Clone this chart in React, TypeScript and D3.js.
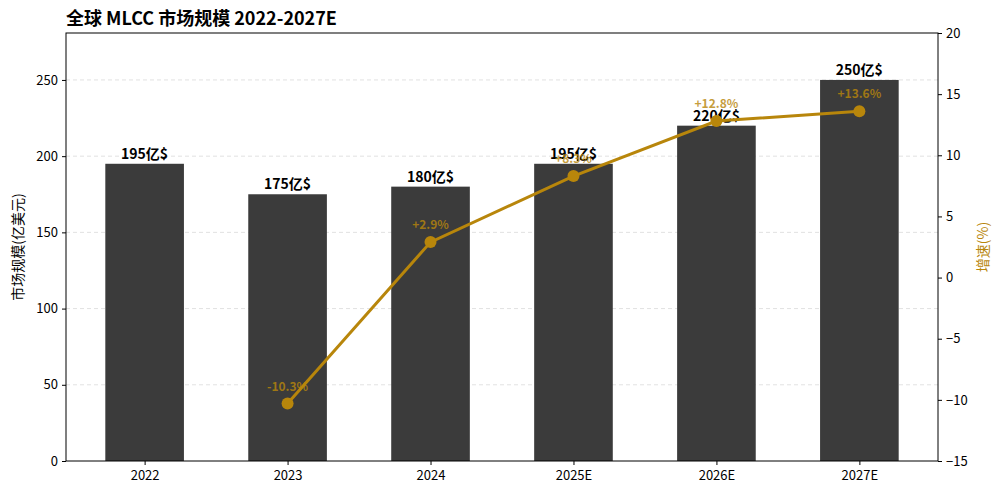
import * as d3 from "d3";
import React, { useEffect, useRef } from "react";

const years = ["2022", "2023", "2024", "2025E", "2026E", "2027E"];
const marketSize = [195, 175, 180, 195, 220, 250];
const growth: (number | null)[] = [null, -10.3, 2.9, 8.3, 12.8, 13.6];
const leftTicks = [0, 50, 100, 150, 200, 250];
const rightTicks = [-15, -10, -5, 0, 5, 10, 15, 20];

const FONT = "'Noto Sans CJK SC', 'Noto Sans', sans-serif";
const GOLD = "#b8860b";
const BAR = "#3b3b3b";

const App = () => {
  const ref = useRef<SVGSVGElement | null>(null);

  useEffect(() => {
    const svg = d3.select(ref.current);
    svg.selectAll("*").remove();

    const width = 1000;
    const height = 497;
    const margin = { top: 33, right: 62, bottom: 36, left: 66 };
    const x0 = margin.left;
    const x1 = width - margin.right;
    const yTop = margin.top;
    const yBot = height - margin.bottom;

    svg.attr("width", width).attr("height", height).style("font-family", FONT);

    const x = d3.scaleLinear().domain([-0.55, 5.55]).range([x0, x1]);
    const bw = x(0.55) - x(0);
    const y = d3.scaleLinear().domain([0, 280.8]).range([yBot, yTop]);
    const y2 = d3.scaleLinear().domain([-15, 20]).range([yBot, yTop]);

    // grid
    svg
      .append("g")
      .selectAll("line")
      .data(leftTicks.filter((t) => t > 0))
      .enter()
      .append("line")
      .attr("x1", x0)
      .attr("x2", x1)
      .attr("y1", (d) => y(d))
      .attr("y2", (d) => y(d))
      .attr("stroke", "#d9d9d9")
      .attr("stroke-width", 0.8)
      .attr("stroke-dasharray", "4,3");

    // bars
    svg
      .append("g")
      .selectAll("rect")
      .data(marketSize)
      .enter()
      .append("rect")
      .attr("x", (_, i) => x(i) - bw / 2)
      .attr("y", (d) => y(d))
      .attr("width", bw)
      .attr("height", (d) => y(0) - y(d))
      .attr("fill", BAR);

    // bar labels
    svg
      .append("g")
      .selectAll("text")
      .data(marketSize)
      .enter()
      .append("text")
      .attr("x", (_, i) => x(i))
      .attr("y", (d) => y(d) - 5)
      .attr("text-anchor", "middle")
      .attr("font-size", 14)
      .attr("font-weight", "bold")
      .attr("fill", "#000")
      .text((d) => `${d}亿$`);

    // frame
    svg
      .append("rect")
      .attr("x", x0)
      .attr("y", yTop)
      .attr("width", x1 - x0)
      .attr("height", yBot - yTop)
      .attr("fill", "none")
      .attr("stroke", "#000")
      .attr("stroke-width", 1);

    // left axis
    const left = svg
      .append("g")
      .attr("transform", `translate(${x0},0)`)
      .call(d3.axisLeft(y).tickValues(leftTicks).tickSize(4).tickPadding(4));
    left.select(".domain").remove();
    left.selectAll("text").attr("font-size", 13).attr("font-family", FONT).attr("fill", "#000");

    // right axis
    const right = svg
      .append("g")
      .attr("transform", `translate(${x1},0)`)
      .call(d3.axisRight(y2).tickValues(rightTicks).tickSize(4).tickPadding(4));
    right.select(".domain").remove();
    right.selectAll("text").attr("font-size", 13).attr("font-family", FONT).attr("fill", "#000");

    // bottom axis
    const bottom = svg
      .append("g")
      .attr("transform", `translate(0,${yBot})`)
      .call(
        d3
          .axisBottom(x)
          .tickValues(d3.range(years.length))
          .tickFormat((i) => years[i as number])
          .tickSize(4)
          .tickPadding(6)
      );
    bottom.select(".domain").remove();
    bottom.selectAll("text").attr("font-size", 13).attr("font-family", FONT).attr("fill", "#000");

    // growth line
    const pts = growth
      .map((g, i) => ({ g, i }))
      .filter((d) => d.g !== null) as { g: number; i: number }[];
    const line = d3
      .line<{ g: number; i: number }>()
      .x((d) => x(d.i))
      .y((d) => y2(d.g));
    svg
      .append("path")
      .datum(pts)
      .attr("d", line)
      .attr("fill", "none")
      .attr("stroke", GOLD)
      .attr("stroke-width", 3);
    svg
      .append("g")
      .selectAll("circle")
      .data(pts)
      .enter()
      .append("circle")
      .attr("cx", (d) => x(d.i))
      .attr("cy", (d) => y2(d.g))
      .attr("r", 6)
      .attr("fill", GOLD);
    svg
      .append("g")
      .selectAll("text")
      .data(pts)
      .enter()
      .append("text")
      .attr("x", (d) => x(d.i))
      .attr("y", (d) => y2(d.g) - 13)
      .attr("text-anchor", "middle")
      .attr("font-size", 12)
      .attr("font-weight", "bold")
      .attr("fill", GOLD)
      .attr("opacity", 0.8)
      .text((d) => `${d.g > 0 ? "+" : ""}${d.g}%`);

    // axis labels
    svg
      .append("text")
      .attr("transform", `translate(23,${(yTop + yBot) / 2}) rotate(-90)`)
      .attr("text-anchor", "middle")
      .attr("font-size", 14)
      .attr("fill", "#000")
      .text("市场规模(亿美元)");
    svg
      .append("text")
      .attr("transform", `translate(988,${(yTop + yBot) / 2}) rotate(-90)`)
      .attr("text-anchor", "middle")
      .attr("font-size", 14)
      .attr("fill", GOLD)
      .text("增速(%)");

    // title
    svg
      .append("text")
      .attr("x", x0)
      .attr("y", 25)
      .attr("font-size", 18)
      .attr("font-weight", "bold")
      .attr("fill", "#000")
      .text("全球 MLCC 市场规模 2022-2027E");
  }, []);

  return <svg ref={ref} style={{ position: "absolute", left: 0, top: 0 }} />;
};

export default App;
